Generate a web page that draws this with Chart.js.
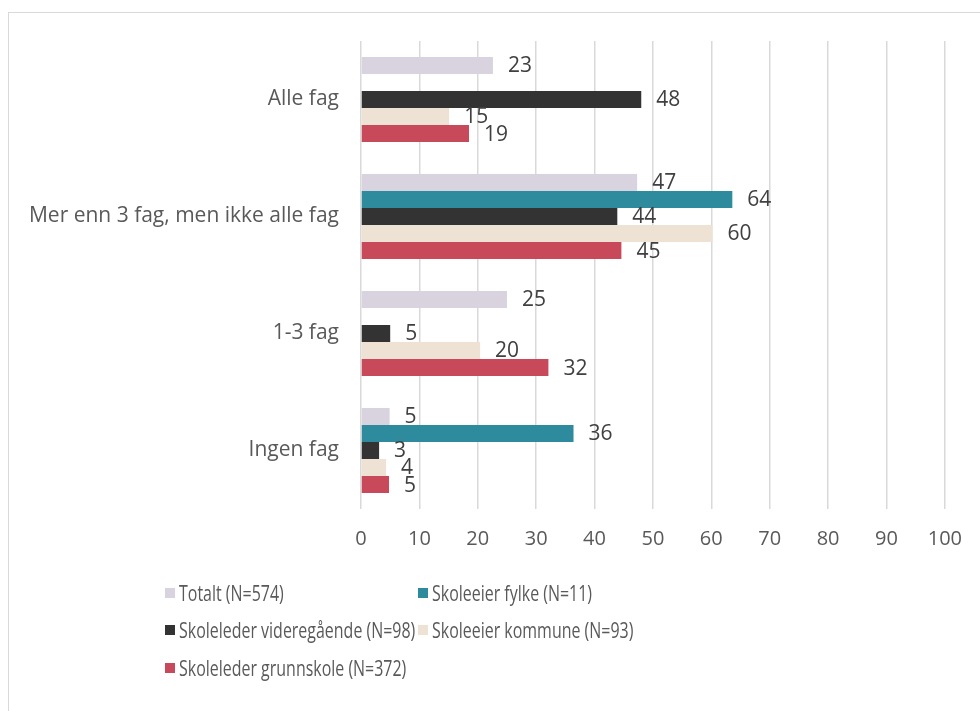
<!DOCTYPE html>
<html>
<head>
<meta charset="utf-8">
<script src="https://cdn.jsdelivr.net/npm/chart.js@4/dist/chart.umd.min.js"></script>
<style>
    html, body { margin: 0; padding: 0; background: #fff; }
    body { width: 980px; height: 711px; position: relative; overflow: hidden; font-family: "Open Sans", sans-serif; }
    .frame { position: absolute; left: 8px; top: 12px; width: 1000px; height: 720px; border: 1px solid #d9d9d9; }
    .chart_container { position: absolute; left: 0; top: 0; width: 980px; height: 711px; }
    .legend { position: absolute; left: 0; top: 0; }
    .legend .item { position: absolute; font-size: 21px; color: #595959; white-space: nowrap; line-height: 22px; }
    .legend .box { position: absolute; left: 0; top: 6px; width: 10px; height: 10px; }
    .legend .txt { position: absolute; left: 14px; top: 0; transform: scaleX(0.76); transform-origin: 0 0; }
</style>
</head>
<body>
<div class="frame"></div>
<div class="chart_container">
    <canvas id="fag_chart" width="980" height="711"></canvas>
</div>
<div class="legend" id="legend"></div>
<script type="text/javascript">
    var categories = ["Alle fag", "Mer enn 3 fag, men ikke alle fag", "1-3 fag", "Ingen fag"];
    var seriesNames = ["Totalt (N=574)", "Skoleeier fylke (N=11)", "Skoleleder videregående (N=98)", "Skoleeier kommune (N=93)", "Skoleleder grunnskole (N=372)"];
    var totalt = [22.6, 47.3, 25.0, 4.9];
    var fylke = [null, 63.6, null, 36.4];
    var videregaende = [48.0, 43.9, 5.0, 3.1];
    var kommune = [15.1, 60.2, 20.4, 4.3];
    var grunnskole = [18.5, 44.6, 32.1, 4.8];
    var xTicks = [0, 10, 20, 30, 40, 50, 60, 70, 80, 90, 100];
    var colors = ["#D9D3E0", "#2E8B9D", "#333333", "#EDE2D3", "#C84A5A"];

    var textFont = "'Open Sans', sans-serif";

    var valueLabels = {
        id: "valueLabels",
        afterDatasetsDraw: function (chart) {
            var ctx = chart.ctx;
            ctx.save();
            ctx.font = "21px " + textFont;
            ctx.fillStyle = "#404040";
            ctx.textAlign = "left";
            ctx.textBaseline = "middle";
            chart.data.datasets.forEach(function (ds, i) {
                var meta = chart.getDatasetMeta(i);
                meta.data.forEach(function (bar, j) {
                    var v = ds.data[j];
                    if (v === null) return;
                    ctx.fillText(Math.round(v), bar.x + 15, bar.y + 1);
                });
            });
            ctx.restore();
        }
    };

    var chart = createChart("fag_chart");
    buildLegend();

    function createChart (id) {
        var ctx = document.getElementById(id).getContext("2d");
        var values = [totalt, fylke, videregaende, kommune, grunnskole];
        var data = {
            labels: categories,
            datasets: seriesNames.map(function (name, i) {
                return {
                    label: name,
                    data: values[i],
                    backgroundColor: colors[i],
                    categoryPercentage: 0.727,
                    barPercentage: 1.0
                };
            })
        };
        return new Chart(ctx, {
            type: "bar",
            data: data,
            plugins: [valueLabels],
            options: {
                indexAxis: "y",
                responsive: false,
                animation: false,
                layout: { padding: { top: 41, right: 35, bottom: 0, left: 0 } },
                plugins: {
                    legend: { display: false },
                    tooltip: { enabled: false }
                },
                scales: {
                    x: {
                        min: 0,
                        max: 100,
                        afterBuildTicks: function (scale) {
                            scale.ticks = xTicks.map(function (v) { return { value: v }; });
                        },
                        afterFit: function (scale) { scale.height = 202; },
                        grid: { color: "#d9d9d9", lineWidth: 1.5, drawTicks: false },
                        border: { display: false },
                        ticks: { color: "#595959", padding: 18, font: { family: textFont, size: 20 } }
                    },
                    y: {
                        afterFit: function (scale) { scale.width = 361; },
                        grid: { display: false, drawTicks: false },
                        border: { display: false },
                        ticks: { color: "#595959", padding: 22, font: { family: textFont, size: 21 } }
                    }
                }
            }
        });
    }

    function buildLegend () {
        var pos = [[165, 582], [418, 582], [165, 619], [418, 619], [165, 657]];
        var el = document.getElementById("legend");
        chart.data.datasets.forEach(function (ds, i) {
            var item = document.createElement("div");
            item.className = "item";
            item.style.left = pos[i][0] + "px";
            item.style.top = pos[i][1] + "px";
            item.innerHTML = '<span class="box" style="background:' + ds.backgroundColor + '"></span><span class="txt">' + ds.label + '</span>';
            el.appendChild(item);
        });
    }
</script>
</body>
</html>
